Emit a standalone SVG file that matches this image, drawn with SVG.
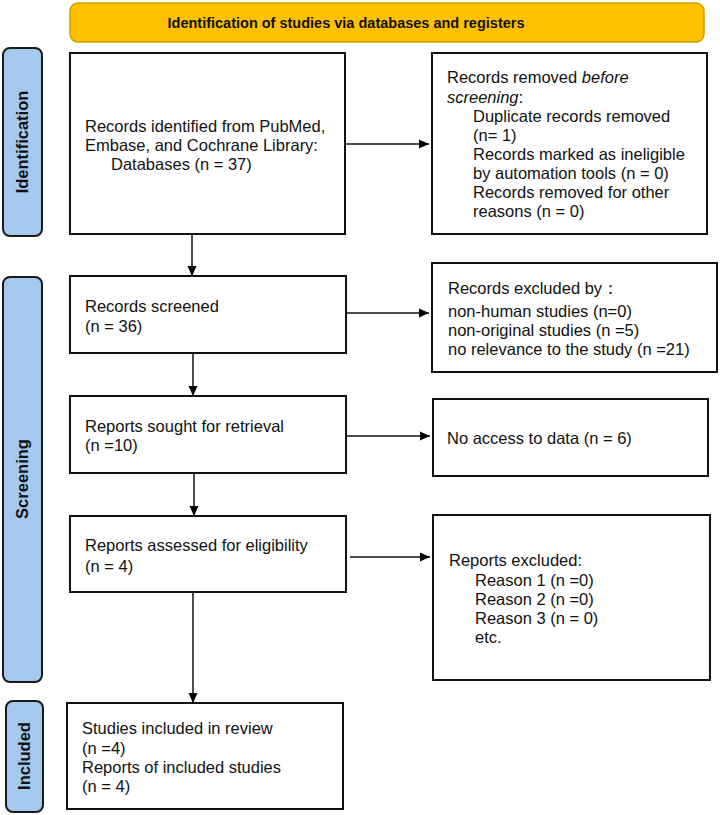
<svg xmlns="http://www.w3.org/2000/svg" width="720" height="815" viewBox="0 0 720 815">
<defs>
<marker id="arr" markerWidth="10" markerHeight="10" refX="10" refY="5" orient="auto" markerUnits="userSpaceOnUse">
<path d="M0,0.5 L10,5 L0,9.5 Z" fill="#000"/>
</marker>
<style>
.box{fill:#fff;stroke:#111;stroke-width:2}
.pill{fill:#a5c8ee;stroke:#1a1a1a;stroke-width:2}
.t{font-family:"Liberation Sans",Arial,sans-serif;font-size:16.5px;fill:#111}
.pt{font-family:"Liberation Sans",Arial,sans-serif;font-size:16.5px;font-weight:bold;fill:#111}
.ttl{font-family:"Liberation Sans",Arial,sans-serif;font-size:14.5px;font-weight:bold;fill:#111}
.c{fill:none;stroke:#111;stroke-width:1.5}
</style>
</defs>
<rect width="720" height="815" fill="#fff"/>

<g id="title">
<rect x="70" y="3" width="634" height="39" rx="8" fill="#ffc000" stroke="#d0a000" stroke-width="1.5"/>
<text class="ttl" x="346" y="27.5" text-anchor="middle">Identification of studies via databases and registers</text>
</g>

<g id="phase-identification">
<rect class="pill" x="3" y="48" width="39" height="188" rx="7"/>
<text class="pt" transform="translate(28,142) rotate(-90)" text-anchor="middle">Identification</text>
</g>
<g id="phase-screening">
<rect class="pill" x="3" y="277" width="39" height="405" rx="7"/>
<text class="pt" transform="translate(28,479) rotate(-90)" text-anchor="middle">Screening</text>
</g>
<g id="phase-included">
<rect class="pill" x="6" y="701" width="37" height="111" rx="7"/>
<text class="pt" transform="translate(30,756) rotate(-90)" text-anchor="middle">Included</text>
</g>

<g id="identified">
<rect class="box" x="70" y="53" width="275" height="181"/>
<text class="t" x="85" y="132">Records identified from PubMed,</text>
<text class="t" x="85" y="151">Embase, and Cochrane Library:</text>
<text class="t" x="111" y="170">Databases (n = 37)</text>
</g>

<g id="removed">
<rect class="box" x="432" y="53" width="275" height="181"/>
<text class="t" x="447" y="83">Records removed <tspan font-style="italic">before</tspan></text>
<text class="t" x="447" y="103"><tspan font-style="italic">screening</tspan>:</text>
<text class="t" x="473" y="122">Duplicate records removed</text>
<text class="t" x="473" y="141">(n= 1)</text>
<text class="t" x="473" y="160">Records marked as ineligible</text>
<text class="t" x="473" y="179">by automation tools (n = 0)</text>
<text class="t" x="473" y="198">Records removed for other</text>
<text class="t" x="473" y="217">reasons (n = 0)</text>
</g>

<g id="screened">
<rect class="box" x="70" y="276" width="276" height="77"/>
<text class="t" x="85" y="312">Records screened</text>
<text class="t" x="85" y="332">(n = 36)</text>
</g>

<g id="excluded">
<rect class="box" x="432" y="263" width="285" height="109"/>
<text class="t" x="448" y="294">Records excluded by：</text>
<text class="t" x="448" y="317">non-human studies (n=0)</text>
<text class="t" x="448" y="336">non-original studies (n =5)</text>
<text class="t" x="448" y="355">no relevance to the study (n =21)</text>
</g>

<g id="sought">
<rect class="box" x="70" y="396" width="276" height="77"/>
<text class="t" x="85" y="432">Reports sought for retrieval</text>
<text class="t" x="85" y="451">(n =10)</text>
</g>

<g id="noaccess">
<rect class="box" x="433" y="399" width="275" height="77"/>
<text class="t" x="447" y="444">No access to data (n = 6)</text>
</g>

<g id="assessed">
<rect class="box" x="70" y="516" width="276" height="76"/>
<text class="t" x="85" y="551">Reports assessed for eligibility</text>
<text class="t" x="85" y="572">(n = 4)</text>
</g>

<g id="reportsexcluded">
<rect class="box" x="433" y="515" width="277" height="165"/>
<text class="t" x="449" y="566">Reports excluded:</text>
<text class="t" x="475" y="586">Reason 1 (n =0)</text>
<text class="t" x="475" y="605">Reason 2 (n =0)</text>
<text class="t" x="475" y="624">Reason 3 (n = 0)</text>
<text class="t" x="475" y="643">etc.</text>
</g>

<g id="included">
<rect class="box" x="67" y="703" width="276" height="106"/>
<text class="t" x="82" y="734">Studies included in review</text>
<text class="t" x="82" y="754">(n =4)</text>
<text class="t" x="82" y="773">Reports of included studies</text>
<text class="t" x="82" y="792">(n = 4)</text>
</g>

<g id="connectors">
<line class="c" x1="192" y1="234" x2="192" y2="276" marker-end="url(#arr)"/>
<line class="c" x1="345" y1="144" x2="429" y2="144" marker-end="url(#arr)"/>
<line class="c" x1="193" y1="353" x2="193" y2="396" marker-end="url(#arr)"/>
<line class="c" x1="346" y1="313" x2="429" y2="313" marker-end="url(#arr)"/>
<line class="c" x1="194" y1="473" x2="194" y2="516" marker-end="url(#arr)"/>
<line class="c" x1="346" y1="436" x2="430" y2="436" marker-end="url(#arr)"/>
<line class="c" x1="350" y1="557" x2="430" y2="557" marker-end="url(#arr)"/>
<line class="c" x1="193" y1="592" x2="193" y2="703" marker-end="url(#arr)"/>
</g>
</svg>
